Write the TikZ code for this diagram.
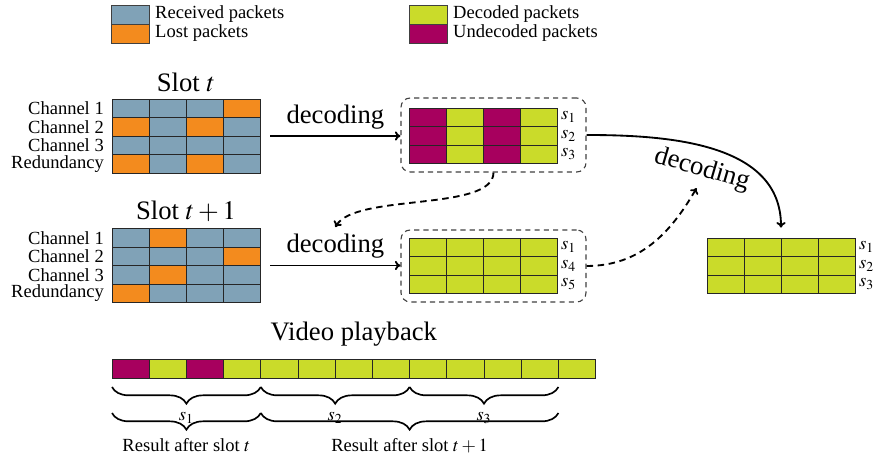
\documentclass[tikz,border=0pt]{standalone}
\usepackage{mathptmx}
\usepackage{fontspec}
\setmainfont{Liberation Serif}
\usetikzlibrary{arrows.meta, positioning, fit, decorations.pathreplacing}
\definecolor{rcvd}{HTML}{80A2B7}
\definecolor{lost}{HTML}{F38B1E}
\definecolor{dec}{HTML}{CADB2A}
\definecolor{undec}{HTML}{A7005E}

\begin{document}
\begin{tikzpicture}[
  x=0.54pt, y=-0.54pt,
  cell/.style={draw=black!85, line width=0.5pt},
  keybox/.style={draw=black!75, line width=0.5pt},
  keytext/.style={anchor=west, inner sep=1pt},
  rowlab/.style={anchor=east, inner sep=1pt},
  slab/.style={anchor=west, inner sep=2pt},
  slottitle/.style={font=\Large},
  gridbox/.style={inner sep=0pt},
  decbox/.style={draw=black!75, line width=0.6pt, dashed, dash pattern=on 2.8pt off 2.2pt,
                 rounded corners=5pt, inner sep=0pt},
  arrow/.style={-{To[length=3pt, width=5pt]}, line width=1pt},
  darrow/.style={arrow, dash pattern=on 3.5pt off 2.5pt},
  pbrace/.style={decorate, decoration={brace, mirror, amplitude=9pt},
                 line width=0.9pt}
]
  \useasboundingbox (0,0) rectangle (876,457);

  % legend
  \draw[keybox, fill=rcvd] (111,5) rectangle (149,24);
  \draw[keybox, fill=lost] (111,24) rectangle (149,43);
  \node[keytext] (keyRcvd) at (153,14.5) {Received packets};
  \node[keytext] (keyLost) at (153,33.5) {Lost packets};
  \draw[keybox, fill=dec] (409,5) rectangle (447,24);
  \draw[keybox, fill=undec] (409,24) rectangle (447,43);
  \node[keytext] (keyDec) at (451,14.5) {Decoded packets};
  \node[keytext] (keyUndec) at (451,33.5) {Undecoded packets};

  % slot t
  \foreach \r/\cols in {0/{rcvd,rcvd,rcvd,lost}, 1/{lost,rcvd,lost,rcvd},
                        2/{rcvd,rcvd,rcvd,rcvd}, 3/{lost,rcvd,lost,rcvd}}
    \foreach \c [count=\k from 0] in \cols
      \draw[cell, fill=\c] (112+37*\k, 99+18.5*\r) rectangle ++(37,18.5);
  \node[gridbox, fit={(112,99) (260,173)}] (slotA) {};
  \node[slottitle, above=0pt of slotA] (titleA) {Slot $t$};
  \foreach \t [count=\i from 0] in {Channel 1, Channel 2, Channel 3, Redundancy}
    \node[rowlab] (labA\i) at (106, 108.25+18.5*\i) {\t};

  % slot t+1
  \foreach \r/\cols in {0/{rcvd,lost,rcvd,rcvd}, 1/{rcvd,rcvd,rcvd,lost},
                        2/{rcvd,lost,rcvd,rcvd}, 3/{lost,rcvd,rcvd,rcvd}}
    \foreach \c [count=\k from 0] in \cols
      \draw[cell, fill=\c] (112+37*\k, 228.5+18.5*\r) rectangle ++(37,18.5);
  \node[gridbox, fit={(112,228.5) (260,302.5)}] (slotB) {};
  \node[slottitle, above=0pt of slotB] (titleB) {Slot $t+1$};
  \foreach \t [count=\i from 0] in {Channel 1, Channel 2, Channel 3, Redundancy}
    \node[rowlab] (labB\i) at (106, 237.75+18.5*\i) {\t};

  % decoded after slot t
  \foreach \r in {0,1,2}
    \foreach \c [count=\k from 0] in {undec,dec,undec,dec}
      \draw[cell, fill=\c] (409+37*\k, 108+18.5*\r) rectangle ++(37,18.5);
  \foreach \s [count=\i from 0] in {1,2,3}
    \node[slab] (sA\i) at (557, 117.25+18.5*\i) {$s_{\s}$};
  \node[decbox, fit={(401,98) (586,172)}] (boxA) {};

  % decoded after slot t+1
  \foreach \r in {0,1,2}
    \foreach \c [count=\k from 0] in {dec,dec,dec,dec}
      \draw[cell, fill=\c] (409+37*\k, 238+18.5*\r) rectangle ++(37,18.5);
  \foreach \s [count=\i from 0] in {1,4,5}
    \node[slab] (sB\i) at (557, 247.25+18.5*\i) {$s_{\s}$};
  \node[decbox, fit={(401,230) (586,302)}] (boxB) {};

  % final result
  \foreach \r in {0,1,2}
    \foreach \c [count=\k from 0] in {dec,dec,dec,dec}
      \draw[cell, fill=\c] (707+37*\k, 238+18.5*\r) rectangle ++(37,18.5);
  \node[gridbox, fit={(707,238) (855,293.5)}] (fin) {};
  \foreach \s [count=\i from 0] in {1,2,3}
    \node[slab] (sC\i) at (855, 247.25+18.5*\i) {$s_{\s}$};

  % decoding arrows
  \draw[arrow] ([xshift=5.4pt]slotA.east) -- (slotA.east -| boxA.west)
    node[midway, above, font=\Large] (decA) {decoding};
  \draw[arrow] ([xshift=5.4pt]slotB.east) -- (slotB.east -| boxB.west)
    node[midway, above, font=\Large] (decB) {decoding};
  \draw[arrow] (boxA.east) to[out=0, in=90]
    node[sloped, below=2pt, pos=0.47, font=\Large] (decC) {decoding}
    ([yshift=5.4pt]fin.north);
  \draw[darrow] (boxA.south) to[out=-90, in=60, looseness=0.6] (decB.north);
  \draw[darrow] (boxB.east) to[out=0, in=240] (decC.south);

  % video playback
  \foreach \c [count=\k from 0] in {undec,dec,undec,dec,dec,dec,dec,dec,dec,dec,dec,dec,dec}
    \draw[cell, fill=\c] (112+37.2*\k, 359) rectangle ++(37.2,19);
  \node[gridbox, fit={(112,359) (595.6,378)}] (bar) {};
  \node[slottitle, above=3pt of bar] (titleV) {Video playback};

  \draw[pbrace] (112,387) -- (260.8,387) node[midway, below=10pt] (brS1) {$s_1$};
  \draw[pbrace] (260.8,387) -- (409.6,387) node[midway, below=10pt] (brS2) {$s_2$};
  \draw[pbrace] (409.6,387) -- (558.4,387) node[midway, below=10pt] (brS3) {$s_3$};
  \draw[pbrace] (112,413) -- (260.8,413)
    node[midway, below=10pt] (resA) {Result after slot $t$};
  \draw[pbrace] (260.8,413) -- (558.4,413)
    node[midway, below=10pt] (resB) {Result after slot $t+1$};
\end{tikzpicture}
\end{document}
